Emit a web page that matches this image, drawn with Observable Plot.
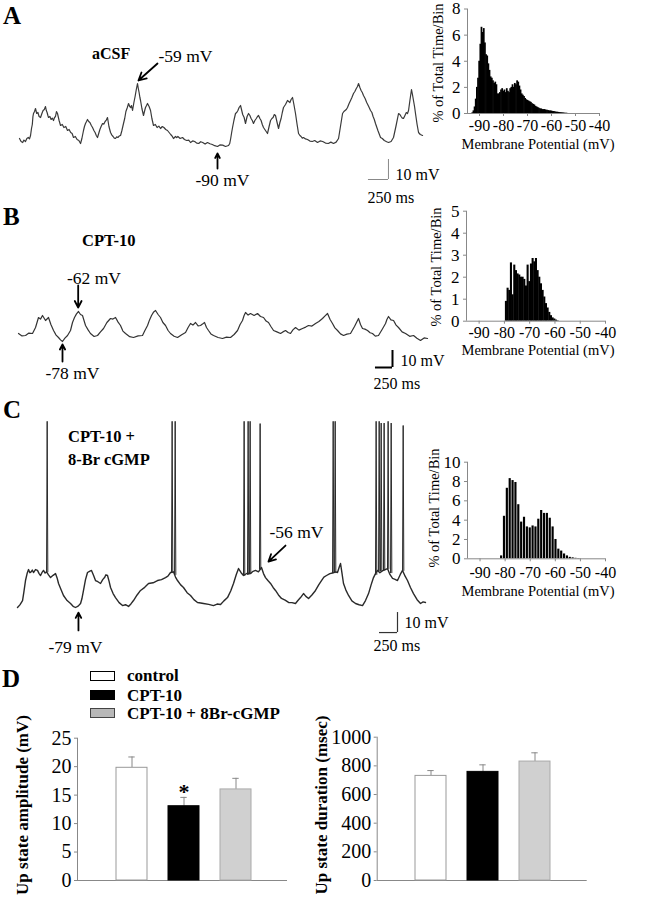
<!DOCTYPE html>
<html><head><meta charset="utf-8">
<script src="https://cdn.jsdelivr.net/npm/d3@7"></script>
<script src="https://cdn.jsdelivr.net/npm/@observablehq/plot@0.6"></script>
<style>
html,body{margin:0;padding:0;background:#fff;}
#fig{position:relative;width:653px;height:900px;overflow:hidden;font-family:"Liberation Serif","Times New Roman",serif;color:#000;}
#fig svg{position:absolute;left:0;top:0;background:transparent;overflow:visible;max-width:none;}
</style></head><body><div id="fig"></div>
<script>
// ---------------- DATA ----------------
// membrane potential traces: [time (ms), membrane potential (mV)]
const traceA = [[0,-86],[20,-87.5],[40,-88],[55,-86.8],[75,-87.5],[92,-86],[110,-85.5],[125,-86.2],[138,-84.5],[150,-81],[160,-79],[168,-75],[175,-73.5],[188,-72.5],[200,-71],[215,-73.5],[230,-73],[245,-75],[263,-75.5],[280,-73.5],[295,-72],[310,-71.5],[325,-70],[335,-72],[345,-73],[355,-74.5],[363,-75.5],[380,-75],[395,-76.5],[410,-75.8],[425,-77],[438,-75.5],[450,-75],[462,-72.5],[475,-73.5],[495,-77],[513,-79.5],[535,-79],[555,-80.5],[578,-80],[600,-82],[620,-81.5],[640,-83],[658,-83.5],[675,-85.5],[698,-85],[720,-86.5],[742,-87],[763,-88.5],[780,-86],[800,-82],[812,-80],[825,-78.5],[838,-77.5],[850,-76.5],[865,-77.5],[880,-78],[898,-79.5],[913,-80.5],[930,-82],[945,-83],[960,-84.5],[975,-85.5],[990,-83.5],[1005,-81.5],[1020,-80],[1038,-78.5],[1055,-78.8],[1070,-77.5],[1085,-76.8],[1100,-75.5],[1118,-80],[1138,-83],[1155,-84.3],[1170,-85],[1185,-85.8],[1200,-86],[1215,-85.2],[1230,-85.5],[1248,-84.7],[1263,-84.5],[1280,-82],[1300,-78.5],[1315,-76],[1330,-72.5],[1348,-70.5],[1363,-68.5],[1378,-70],[1390,-70.5],[1400,-69.5],[1413,-72],[1430,-68],[1445,-65],[1460,-61.5],[1475,-58.5],[1485,-61],[1495,-63],[1505,-65.5],[1513,-67],[1530,-71],[1550,-74.5],[1562,-72.5],[1575,-70.5],[1588,-69.5],[1600,-68.5],[1620,-70],[1638,-72],[1655,-76],[1675,-79.5],[1698,-79],[1720,-80.5],[1742,-79.8],[1763,-81],[1785,-80],[1805,-80.5],[1828,-81.5],[1850,-82],[1870,-83],[1890,-84],[1908,-84.8],[1925,-86],[1950,-85],[1965,-85.6],[1980,-85],[2008,-86],[2038,-85.5],[2062,-86.5],[2090,-87],[2115,-86.8],[2138,-88],[2165,-87.2],[2190,-87.5],[2215,-88.3],[2240,-88.5],[2265,-87.6],[2290,-88],[2320,-88.8],[2350,-88],[2380,-88.6],[2410,-89],[2440,-89.6],[2475,-90],[2505,-89.2],[2540,-89.3],[2575,-90],[2613,-89.5],[2628,-88.5],[2640,-86],[2652,-83],[2663,-80.5],[2680,-77],[2700,-73.5],[2715,-73],[2730,-72],[2745,-70.5],[2763,-69.5],[2790,-74],[2808,-75.5],[2825,-78.5],[2845,-75],[2863,-73.5],[2880,-74.5],[2895,-76],[2910,-77],[2925,-78.5],[2942,-77],[2960,-76],[2975,-75],[2988,-74.5],[3005,-76],[3020,-77],[3035,-79],[3050,-80.5],[3075,-82],[3100,-83.5],[3120,-80],[3138,-77],[3155,-76],[3170,-75.5],[3185,-74],[3200,-74.5],[3220,-78],[3238,-81],[3255,-78],[3270,-76],[3285,-73],[3300,-70.5],[3325,-69],[3350,-67],[3365,-67.5],[3380,-68],[3395,-66.5],[3413,-65.5],[3430,-69],[3450,-73.5],[3470,-79],[3488,-83.5],[3505,-84.5],[3520,-85],[3535,-85.8],[3550,-85.5],[3575,-86.2],[3600,-86.5],[3630,-87.3],[3660,-87.5],[3690,-87],[3725,-88],[3758,-87.2],[3790,-87.5],[3825,-88.3],[3860,-88.5],[3892,-87.8],[3925,-88.5],[3958,-87.8],[3988,-86],[4012,-80],[4038,-73.5],[4055,-72.5],[4070,-72],[4085,-71.5],[4100,-70.5],[4120,-68.5],[4138,-67],[4155,-65.5],[4175,-63.5],[4192,-62.5],[4210,-61],[4225,-60],[4238,-58.5],[4255,-60.5],[4270,-62],[4285,-63],[4300,-64.5],[4320,-66],[4340,-68],[4365,-70],[4388,-72],[4405,-73],[4420,-75],[4435,-76.5],[4450,-78.5],[4480,-82],[4513,-85.5],[4535,-86],[4560,-87],[4590,-87.6],[4613,-88],[4645,-87.5],[4675,-85.5],[4705,-80],[4738,-73.5],[4755,-74],[4770,-75],[4785,-75.8],[4800,-76],[4818,-74.5],[4835,-73],[4850,-73.5],[4863,-72],[4880,-67],[4900,-61.5],[4912,-64],[4925,-67],[4938,-70],[4950,-73.5],[4970,-79],[4988,-83],[5010,-84],[5038,-84.5]];
const traceB = [[0,-74],[44,-75.2],[88,-75],[130,-73.8],[175,-74],[213,-71],[250,-66],[275,-66.8],[300,-65],[338,-67.5],[375,-66],[405,-69.5],[438,-72.5],[470,-74.8],[500,-76],[525,-77.2],[550,-78],[580,-76.3],[613,-75],[650,-72.5],[675,-68.5],[700,-66],[725,-64.2],[750,-63],[775,-64.5],[800,-65],[838,-70],[870,-72.2],[900,-74],[945,-75.5],[988,-75],[1025,-73.2],[1063,-71.5],[1105,-68.5],[1150,-66.5],[1180,-66.8],[1213,-66],[1245,-68.3],[1275,-70],[1305,-72.8],[1338,-74],[1390,-75.6],[1438,-76],[1495,-75.2],[1550,-75],[1580,-72.5],[1613,-70],[1638,-67.2],[1663,-65],[1690,-63.2],[1713,-62.5],[1745,-64.5],[1775,-66],[1805,-68.5],[1838,-70],[1870,-72.5],[1900,-74],[1945,-75.4],[1988,-76],[2040,-74.6],[2088,-73.5],[2120,-71],[2150,-69],[2180,-69.8],[2213,-68.5],[2245,-70.2],[2275,-70],[2300,-69.3],[2325,-68.5],[2350,-71],[2375,-72.5],[2405,-74.2],[2438,-75],[2495,-76],[2550,-76.5],[2600,-75.8],[2650,-76],[2695,-74.5],[2738,-72.5],[2770,-69.5],[2800,-67.5],[2820,-65],[2838,-63.5],[2870,-64.8],[2900,-64],[2945,-65],[2988,-64],[3025,-65.5],[3063,-66],[3095,-67.8],[3125,-68.5],[3155,-70.5],[3188,-72.5],[3230,-73.2],[3275,-74],[3305,-73.2],[3338,-72.5],[3370,-73.5],[3400,-74],[3430,-72.2],[3463,-71],[3505,-72.3],[3550,-71.5],[3590,-70.8],[3625,-70],[3668,-70.3],[3713,-69],[3755,-68],[3800,-66.5],[3832,-65.2],[3863,-64],[3895,-67],[3925,-69],[3955,-71.2],[3988,-72.5],[4025,-74.2],[4063,-75],[4105,-74.3],[4150,-74],[4200,-70.5],[4250,-66.5],[4275,-69.5],[4300,-71.5],[4330,-71.8],[4363,-72.5],[4395,-73.6],[4425,-74],[4460,-75.3],[4500,-75],[4545,-72],[4588,-69],[4605,-67],[4625,-65.5],[4655,-67.2],[4688,-67.5],[4720,-69.8],[4750,-71],[4795,-73.2],[4838,-74],[4890,-75.4],[4938,-75],[4980,-76.4],[5025,-77.5],[5070,-76.2],[5113,-76.5]];
const traceC = [[0,-79],[30,-77.5],[63,-75],[80,-70],[100,-63.5],[120,-59.5],[138,-57.2],[155,-59],[170,-58.5],[185,-57.5],[200,-58.9],[225,-57.2],[250,-57.7],[270,-59.5],[288,-60.6],[305,-59],[325,-57.7],[345,-59.2],[363,-58.5],[388,-60.2],[413,-61.8],[445,-60.5],[475,-59.5],[495,-62],[513,-65.2],[545,-68.8],[575,-72.1],[620,-75],[663,-76.7],[695,-78.3],[725,-79],[758,-78.2],[788,-76.7],[805,-74],[825,-69.2],[850,-63],[875,-58.9],[900,-58.2],[925,-57.7],[950,-60.5],[975,-63.5],[1005,-64.2],[1038,-65.2],[1065,-63],[1088,-61.8],[1105,-60.2],[1125,-60.6],[1145,-64],[1163,-67.5],[1195,-71],[1225,-73.3],[1270,-76.2],[1313,-77.9],[1350,-77.4],[1388,-78.4],[1420,-76.8],[1450,-75],[1495,-71.8],[1538,-69.2],[1590,-67.4],[1638,-65.2],[1695,-64.8],[1750,-63.5],[1800,-63],[1850,-61.8],[1880,-61],[1913,-58.9],[1950,-58.5],[1975,-61.5],[2000,-63.5],[2040,-66],[2075,-67.5],[2120,-70.5],[2163,-72.1],[2205,-74.5],[2250,-76.1],[2290,-76.4],[2325,-76.7],[2390,-77.2],[2450,-77.9],[2495,-77],[2538,-77.3],[2580,-75.2],[2625,-73.3],[2665,-69.5],[2700,-65.2],[2735,-60],[2763,-56.6],[2795,-59],[2825,-60.6],[2870,-59.3],[2913,-59.5],[2945,-58.2],[2975,-57.7],[3012,-58.5],[3050,-56],[3075,-59.5],[3100,-61.8],[3130,-63.5],[3163,-65.2],[3195,-67.5],[3225,-69.2],[3262,-71.8],[3300,-73.8],[3345,-74.8],[3388,-76.1],[3430,-76.2],[3475,-76.7],[3505,-75],[3538,-73.3],[3575,-71],[3605,-72.6],[3638,-73.8],[3680,-71.8],[3725,-69.2],[3765,-66],[3800,-63.5],[3830,-61.5],[3863,-60.6],[3905,-59.5],[3950,-59],[3975,-58.5],[4000,-58.9],[4020,-56],[4038,-53.7],[4055,-59],[4075,-65.2],[4105,-69],[4138,-72.1],[4180,-75.2],[4225,-76.7],[4270,-77.4],[4313,-77.9],[4350,-75],[4388,-71],[4420,-66],[4450,-61.8],[4475,-59.5],[4500,-57.7],[4530,-59],[4560,-58],[4595,-57.2],[4625,-56.6],[4655,-60],[4688,-62.3],[4720,-62.8],[4750,-63.5],[4785,-60],[4813,-57.7],[4845,-61],[4875,-63.5],[4912,-67.5],[4950,-71],[4995,-74.5],[5038,-76.7],[5070,-75.8],[5100,-76.1]];
// action potentials in C: [time (ms), take-off (mV), peak (mV)]
const spikesC = [[363,-58.5,28],[1925,-59,28],[1963,-60,28],[2825,-60.6,28],[2875,-60,28],[2900,-59.5,28],[3025,-57,26.7],[3938,-59,28],[3963,-59,28],[4475,-60,28],[4513,-58,28],[4538,-58,27],[4575,-57.5,27],[4625,-56.6,28],[4663,-59,27],[4813,-57.7,25.6]];

// membrane potential histograms (% of total time per bin)
const histA_start = -93.04, histA_bin = 0.479;
const histA_pct = [0.05,0.2,0.5,1.1,2.0,2.7,4.0,5.3,6.6,6.2,6.5,5.4,4.5,4.4,3.8,3.3,2.8,2.7,2.5,2.3,2.4,2.2,1.5,1.5,1.6,1.8,1.9,1.7,1.8,1.6,1.9,1.7,1.6,1.9,2.0,2.2,2.0,2.3,2.2,2.5,2.4,2.1,1.8,1.5,1.4,1.3,1.15,1.05,1.0,0.95,0.9,0.85,0.75,0.7,0.65,0.55,0.5,0.45,0.4,0.35,0.35,0.3,0.3,0.3,0.25,0.25,0.22,0.2,0.2,0.18,0.15,0.15,0.12,0.1,0.1,0.08,0.07,0.06,0.05,0.04,0.03,0.02,0.02];
const histB_start = -79.53, histB_bin = 0.66;
const histB_pct = [0.9,1.5,1.4,2.65,1.2,2.55,2.3,2.15,2.1,2.0,2.0,1.9,1.6,2.55,1.8,2.6,2.85,2.7,2.85,2.3,2.0,1.7,1.4,1.1,0.8,0.6,0.4,0.25,0.15,0.1,0.05,0.02];
const histC_start = -81.97, histC_bin = 1.14;
const histC_pct = [0.3,4.4,7.3,8.3,8.1,7.9,5.6,3.8,4.3,3.3,3.2,3.4,3.3,4.1,5.0,4.7,4.7,4.2,3.3,2.0,1.0,0.8,0.5,0.3,0.15,0.1,0.05,0.03];
const histXTicks = [-90,-80,-70,-60,-50,-40];
const histAYTicks = [0,2,4,6,8];
const histBYTicks = [0,1,2,3,4,5];
const histCYTicks = [0,2,4,6,8,10];

// panel D
const groups = ["control","CPT-10","CPT-10 + 8Br-cGMP"];
const groupFill = ["#ffffff","#000000","#d0d0d0"];
const groupStroke = ["#999999","#000000","#aaaaaa"];
const legendFill = ["#ffffff","#000000","#b8b8b8"];
const ampMean = [19.8,13.05,16.0];
const ampSem = [1.9,1.55,1.95];
const durMean = [730,758,830];
const durSem = [37,49,61];
const ampTicks = [0,5,10,15,20,25];
const durTicks = [0,200,400,600,800,1000];

// ---------------- DRAWING ----------------
const fig = document.getElementById("fig");
const W = 653, H = 900;
const svgStyle = "position:absolute;left:0;top:0;background:transparent;overflow:visible;font-family:'Liberation Serif','Times New Roman',serif;font-size:17px;";
const plain = d => String(d);
function add(p){ fig.appendChild(p); }
function lab(txt, x, y, size, bold, anchor){
  const d = document.createElement("div");
  d.textContent = txt;
  d.style.cssText = `position:absolute;left:${x}px;top:${y}px;font-size:${size}px;font-weight:${bold?"bold":"normal"};line-height:1;white-space:nowrap;`;
  d.style.transform = anchor === "start" ? "translate(0,-50%)" : anchor === "rot" ? "translate(-50%,-50%) rotate(-90deg)" : "translate(-50%,-50%)";
  fig.appendChild(d);
}
const arrowOpts = {x1:"x1",y1:"y1",x2:"x2",y2:"y2",stroke:"#000",strokeWidth:1.8,headLength:10,headAngle:55};

// ---- Panel A trace ----
add(Plot.plot({width:W,height:H,margin:0,style:svgStyle,
  x:{domain:[0,5000],range:[19,419],axis:null},
  y:{domain:[-90,-60],range:[146,86],axis:null},
  marks:[
    Plot.line(traceA,{x:d=>d[0],y:d=>d[1],stroke:"#3a3a3a",strokeWidth:1.2}),
    Plot.arrow([{x1:1725,y1:-48.5,x2:1487,y2:-57}],arrowOpts),
    Plot.text(["-59 mV"],{x:1737,y:-45,textAnchor:"start",fontSize:17.5}),
    Plot.arrow([{x1:2475,y1:-101,x2:2475,y2:-93.5}],arrowOpts),
    Plot.text(["-90 mV"],{x:2537,y:-107,fontSize:17.5}),
    Plot.ruleX([4612],{y1:-96.5,y2:-106.5,stroke:"#888",strokeWidth:1}),
    Plot.ruleY([-106.5],{x1:4362,x2:4612,stroke:"#888",strokeWidth:1}),
    Plot.text(["10 mV"],{x:4700,y:-104,textAnchor:"start",fontSize:16}),
    Plot.text(["250 ms"],{x:4350,y:-115.5,textAnchor:"start",fontSize:16})
  ]}));

// ---- Panel B trace ----
add(Plot.plot({width:W,height:H,margin:0,style:svgStyle,
  x:{domain:[0,5000],range:[18,418],axis:null},
  y:{domain:[-78,-62],range:[341,309],axis:null},
  marks:[
    Plot.line(traceB,{x:d=>d[0],y:d=>d[1],stroke:"#333",strokeWidth:1.2}),
    Plot.arrow([{x1:746,y1:-50,x2:746,y2:-61}],arrowOpts),
    Plot.text(["-62 mV"],{x:943,y:-46.5,fontSize:17.5}),
    Plot.arrow([{x1:550,y1:-88,x2:550,y2:-79.5}],arrowOpts),
    Plot.text(["-78 mV"],{x:675,y:-94,fontSize:17.5}),
    Plot.ruleX([4675],{y1:-82.5,y2:-91,stroke:"#000",strokeWidth:2}),
    Plot.ruleY([-91],{x1:4462,x2:4675,stroke:"#000",strokeWidth:2}),
    Plot.text(["10 mV"],{x:4775,y:-87.5,textAnchor:"start",fontSize:16}),
    Plot.text(["250 ms"],{x:4437,y:-99,textAnchor:"start",fontSize:16})
  ]}));

// ---- Panel C trace ----
const spikeLines = spikesC.flatMap(([t,b,p],i)=>[{t,v:b,i},{t:t+8,v:p,i},{t:t+16,v:b,i}]);
add(Plot.plot({width:W,height:H,margin:0,style:svgStyle,
  x:{domain:[0,5000],range:[17,417],axis:null},
  y:{domain:[-79,-56],range:[607,566.98],axis:null},
  marks:[
    Plot.line(traceC,{x:d=>d[0],y:d=>d[1],stroke:"#2a2a2a",strokeWidth:1.4}),
    Plot.line(spikeLines,{x:"t",y:"v",z:"i",stroke:"#2a2a2a",strokeWidth:1}),
    Plot.arrow([{x1:3350,y1:-43.4,x2:3137,y2:-52.6}],arrowOpts),
    Plot.text(["-56 mV"],{x:3487,y:-35.9,fontSize:17.5}),
    Plot.arrow([{x1:762,y1:-92.2,x2:762,y2:-81.9}],arrowOpts),
    Plot.text(["-79 mV"],{x:725,y:-102,fontSize:17.5}),
    Plot.ruleX([4750],{y1:-81.9,y2:-93.4,stroke:"#333",strokeWidth:1.2}),
    Plot.ruleY([-93.4],{x1:4525,x2:4750,stroke:"#333",strokeWidth:1.2}),
    Plot.text(["10 mV"],{x:4837,y:-87.6,textAnchor:"start",fontSize:16}),
    Plot.text(["250 ms"],{x:4450,y:-100.8,textAnchor:"start",fontSize:16})
  ]}));

// ---- Histograms ----
function histPlot(start, bin, pct, yTicks, frame, inset, pad){
  const rows = pct.map((v,i)=>({x1:start+i*bin, x2:start+(i+1)*bin, y:v}));
  return Plot.plot({width:W,height:H,style:svgStyle,
    marginLeft:frame.l, marginRight:W-frame.r, marginTop:frame.t, marginBottom:H-frame.b,
    x:{domain:[-95,-40],axis:null}, y:{domain:[0,yTicks[yTicks.length-1]],axis:null},
    marks:[
      Plot.rectY(rows,{x1:"x1",x2:"x2",y:"y",fill:"#000",insetLeft:inset,insetRight:inset}),
      Plot.ruleX([-95],{stroke:"#888"}),
      Plot.ruleY([0],{stroke:"#888"}),
      Plot.axisY(yTicks,{anchor:"left",tickSize:3,tickPadding:4,fontSize:17,stroke:"#888",label:null,tickFormat:plain}),
      Plot.axisX(histXTicks,{anchor:"bottom",tickSize:3,tickPadding:pad,fontSize:16,stroke:"#888",label:null,tickFormat:plain})
    ]});
}
add(histPlot(histA_start,histA_bin,histA_pct,histAYTicks,{l:467,r:599,t:8.5,b:113},-0.3,3));
add(histPlot(histB_start,histB_bin,histB_pct,histBYTicks,{l:466,r:605,t:210.7,b:320.7},-0.2,2));
add(histPlot(histC_start,histC_bin,histC_pct,histCYTicks,{l:467,r:605,t:461.7,b:558.3},0.35,5));

// ---- Panel D bar charts ----
function barPlot(mean, sem, ticks, frame, xr, star){
  const rows = groups.map((g,i)=>({g, v:mean[i], e:sem[i], fill:groupFill[i], stroke:groupStroke[i]}));
  const ymax = ticks[ticks.length-1];
  const common = {width:W,height:H,style:svgStyle.replace("17px","20px"),
    marginLeft:frame.l, marginRight:W-frame.r, marginTop:frame.t, marginBottom:H-frame.b};
  add(Plot.plot({...common,
    x:{domain:[0,1],axis:null}, y:{domain:[0,ymax],axis:null},
    marks:[
      Plot.ruleX([0],{stroke:"#888"}),
      Plot.ruleY([0],{stroke:"#888"}),
      Plot.axisY(ticks,{anchor:"left",tickSize:3,tickPadding:3,fontSize:20,stroke:"#888",label:null,tickFormat:plain})
    ]}));
  add(Plot.plot({...common,
    x:{type:"band",domain:groups,range:xr,paddingInner:0.4,paddingOuter:0.7,axis:null},
    y:{domain:[0,ymax],axis:null},
    color:{type:"identity"},
    marks:[
      Plot.ruleX(rows,{x:"g",y1:"v",y2:d=>d.v+d.e,stroke:"#888"}),
      Plot.tickY(rows,{x:"g",y:d=>d.v+d.e,stroke:"#888",insetLeft:12.3,insetRight:12.3}),
      Plot.barY(rows,{x:"g",y:"v",fill:"fill",stroke:"stroke",strokeWidth:1}),
      ...(star ? [Plot.text([{g:"CPT-10"}],{x:"g",y:star,text:()=>"*",fontSize:22,fontWeight:"bold"})] : [])
    ]}));
}
barPlot(ampMean, ampSem, ampTicks, {l:77,r:287,t:737.7,b:880}, [79,289], 15.6);
barPlot(durMean, durSem, durTicks, {l:376.7,r:586.7,t:736.7,b:880}, [377.5,587.5], null);

// ---- Text labels ----
lab("A",3,15,25,true,"start");
lab("B",3,216,25,true,"start");
lab("C",3,409,25,true,"start");
lab("D",2,678,25,true,"start");
lab("aCSF",92,54,16,true,"start");
lab("CPT-10",82,241,16.5,true,"start");
lab("CPT-10 +",68,437,16.5,true,"start");
lab("8-Br cGMP",68,460,16.5,true,"start");
lab("% of Total Time/Bin",438,63,14.5,false,"rot");
lab("% of Total Time/Bin",436,267,14.5,false,"rot");
lab("% of Total Time/Bin",434,508,14.5,false,"rot");
lab("Membrane Potential (mV)",538,144,14.5,false,"mid");
lab("Membrane Potential (mV)",538,350,14.5,false,"mid");
lab("Membrane Potential (mV)",538,591,14.5,false,"mid");
lab("Up state amplitude (mV)",22,805,17,true,"rot");
lab("Up state duration (msec)",321,805,17,true,"rot");
// legend
const legY = [675.3,694.7,713];
groups.forEach((g,i)=>{
  const b = document.createElement("div");
  b.style.cssText = `position:absolute;left:90px;top:${legY[i]-4.7}px;width:23px;height:8px;background:${legendFill[i]};border:1px solid ${i===2?"#444":"#000"};`;
  fig.appendChild(b);
  lab(g,127,legY[i],17,true,"start");
});
</script></body></html>
